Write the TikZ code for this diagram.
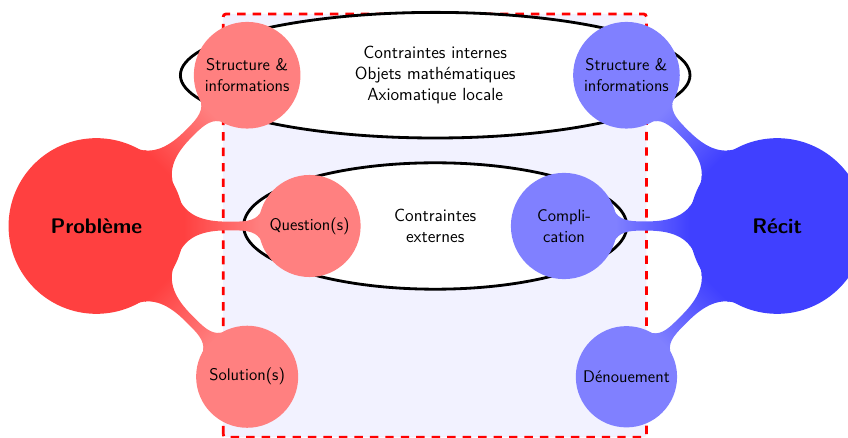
\documentclass[tikz,border=0pt]{standalone}
\usetikzlibrary{calc,mindmap,shapes.geometric}

\begin{document}
\begin{tikzpicture}[
  root/.style={concept, minimum size=4.35cm, text width=3.6cm, font=\sffamily\bfseries\fontsize{15}{18}\selectfont},
  leaf/.style={concept, minimum size=2.48cm, text width=2.4cm, font=\sffamily\fontsize{12}{14.5}\selectfont},
  zone/.style={draw, ellipse, line width=2pt, fill=white, align=center, font=\sffamily\fontsize{12.5}{15}\selectfont},
  bar/.style={line width=0.28cm}]

  \useasboundingbox (-10.88,-5.3) rectangle (10.32,5.65);

  % Frame
  \draw[red, line width=2pt, dash pattern=on 6pt off 5pt, rounded corners=2pt, fill=blue!5] (-5.3,-5.28) rectangle (5.28,5.3);

  % Constraints
  \node[zone, minimum width=12.74cm, minimum height=3.14cm] (internes) at (0,3.77) {Contraintes internes\\Objets math\'ematiques\\Axiomatique locale};
  \node[zone, minimum width=9.58cm, minimum height=3.16cm] (externes) at (0,0) {Contraintes\\externes};

  \begin{scope}[mindmap]
    % Roots
    \node[concept color=red!75, root] (P) at (-8.47,0) {Problème};
    \node[concept color=blue!75, root] (R) at (8.55,0) {Récit};

    % Problem side
    \node[concept color=red!50, leaf] (PS) at ($(P)+(45:5.33)$) {Structure \&\\informations};
    \node[concept color=red!50, leaf] (PQ) at ($(P)+(0:5.33)$) {Question(s)};
    \node[concept color=red!50, leaf] (PA) at ($(P)+(-45:5.33)$) {Solution(s)};

    % Story side
    \node[concept color=blue!50, leaf] (RS) at ($(R)+(135:5.33)$) {Structure \&\\informations};
    \node[concept color=blue!50, leaf] (RC) at ($(R)+(180:5.33)$) {Compli-\\cation};
    \node[concept color=blue!50, leaf] (RD) at ($(R)+(225:5.33)$) {Dénouement};

    % Bars
    \path[bar] (P) to[circle connection bar switch color=from (red!75) to (red!50)] (PS);
    \path[bar] (P) to[circle connection bar switch color=from (red!75) to (red!50)] (PQ);
    \path[bar] (P) to[circle connection bar switch color=from (red!75) to (red!50)] (PA);
    \path[bar] (R) to[circle connection bar switch color=from (blue!75) to (blue!50)] (RS);
    \path[bar] (R) to[circle connection bar switch color=from (blue!75) to (blue!50)] (RC);
    \path[bar] (R) to[circle connection bar switch color=from (blue!75) to (blue!50)] (RD);
  \end{scope}

\end{tikzpicture}
\end{document}
